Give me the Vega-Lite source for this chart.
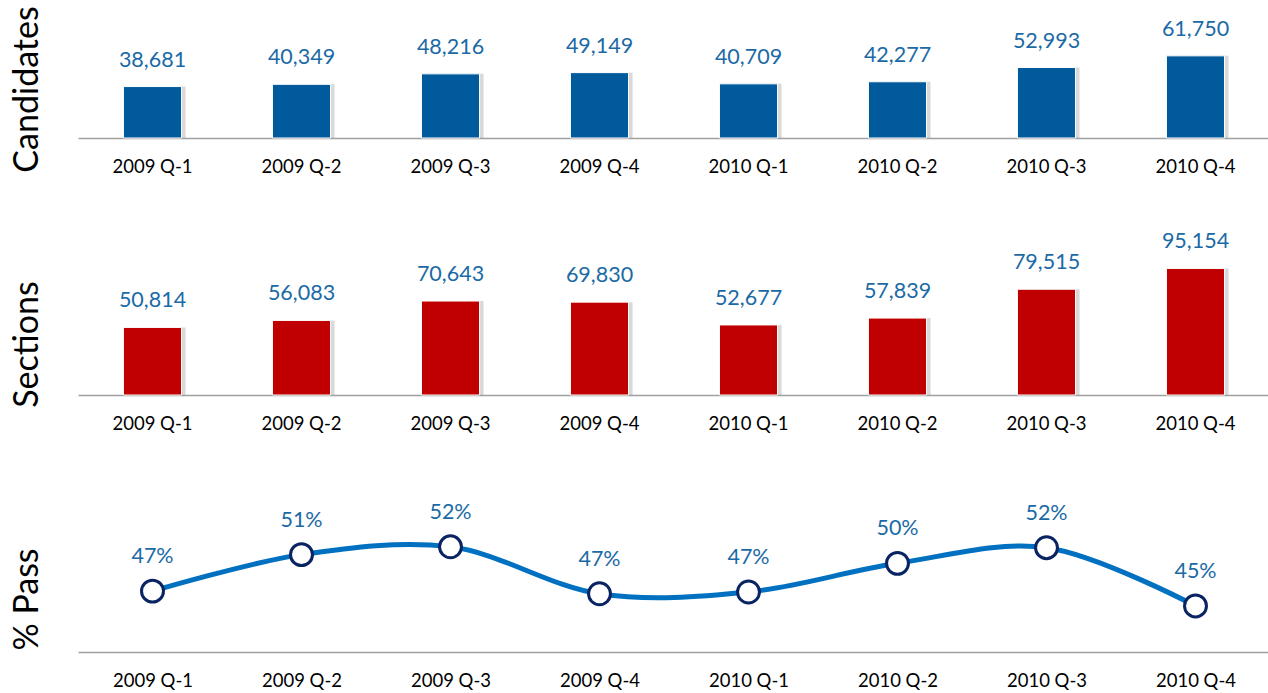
{
  "$schema": "https://vega.github.io/schema/vega-lite/v6.json",
  "padding": {"left": 10, "top": 5, "right": 0, "bottom": 0},
  "background": "white",
  "spacing": 124,
  "bounds": "flush",
  "config": {
    "view": {"stroke": null},
    "font": "Lato",
    "axis": {"grid": false}
  },
  "data": {
    "values": [
      {"quarter": "2009 Q-1", "candidates": 38681, "sections": 50814, "pass": 0.470},
      {"quarter": "2009 Q-2", "candidates": 40349, "sections": 56083, "pass": 0.512},
      {"quarter": "2009 Q-3", "candidates": 48216, "sections": 70643, "pass": 0.521},
      {"quarter": "2009 Q-4", "candidates": 49149, "sections": 69830, "pass": 0.467},
      {"quarter": "2010 Q-1", "candidates": 40709, "sections": 52677, "pass": 0.469},
      {"quarter": "2010 Q-2", "candidates": 42277, "sections": 57839, "pass": 0.502},
      {"quarter": "2010 Q-3", "candidates": 52993, "sections": 79515, "pass": 0.520},
      {"quarter": "2010 Q-4", "candidates": 61750, "sections": 95154, "pass": 0.453}
    ]
  },
  "vconcat": [
    {
      "width": 1192,
      "height": 133,
      "encoding": {
        "x": {"field": "quarter", "type": "nominal", "sort": null,
          "scale": {"paddingInner": 0.61, "paddingOuter": 0.305},
          "axis": {"title": null, "labelAngle": 0, "ticks": false, "labelPadding": 19, "labelFontSize": 18.5, "labelColor": "#000000", "domainColor": "#a0a0a0", "domainWidth": 1.5}},
        "y": {"field": "candidates", "type": "quantitative", "scale": {"domain": [0, 100000]},
          "axis": {"title": "Candidates", "labels": false, "ticks": false, "domain": false, "titleFontSize": 34, "titleFontWeight": "normal", "titleColor": "#000000", "titleX": -41, "titleY": 84, "titleAlign": "center", "titleBaseline": "alphabetic", "titleAngle": -90}}
      },
      "layer": [
        {"mark": {"type": "bar", "color": "#808080", "opacity": 0.3, "xOffset": 4}},
        {"mark": {"type": "bar", "color": "#005a9c", "stroke": "#ffffff", "strokeWidth": 1}},
        {"mark": {"type": "text", "dy": -20, "baseline": "alphabetic", "fontSize": 21.5, "color": "#1b6aa5"},
          "encoding": {"text": {"field": "candidates", "type": "quantitative", "format": ","}}}
      ]
    },
    {
      "width": 1192,
      "height": 133,
      "encoding": {
        "x": {"field": "quarter", "type": "nominal", "sort": null,
          "scale": {"paddingInner": 0.61, "paddingOuter": 0.305},
          "axis": {"title": null, "labelAngle": 0, "ticks": false, "labelPadding": 19, "labelFontSize": 18.5, "labelColor": "#000000", "domainColor": "#a0a0a0", "domainWidth": 1.5}},
        "y": {"field": "sections", "type": "quantitative", "scale": {"domain": [0, 100000]},
          "axis": {"title": "Sections", "labels": false, "ticks": false, "domain": false, "titleFontSize": 34, "titleFontWeight": "normal", "titleColor": "#000000", "titleX": -41, "titleY": 82, "titleAlign": "center", "titleBaseline": "alphabetic", "titleAngle": -90}}
      },
      "layer": [
        {"mark": {"type": "bar", "color": "#808080", "opacity": 0.3, "xOffset": 4}},
        {"mark": {"type": "bar", "color": "#c00000", "stroke": "#ffffff", "strokeWidth": 1}},
        {"mark": {"type": "text", "dy": -20, "baseline": "alphabetic", "fontSize": 21.5, "color": "#1b6aa5"},
          "encoding": {"text": {"field": "sections", "type": "quantitative", "format": ","}}}
      ]
    },
    {
      "width": 1192,
      "height": 133,
      "encoding": {
        "x": {"field": "quarter", "type": "nominal", "sort": null,
          "scale": {"type": "point", "padding": 0.5},
          "axis": {"title": null, "labelAngle": 0, "ticks": false, "labelPadding": 19, "labelFontSize": 18.5, "labelColor": "#000000", "domainColor": "#a0a0a0", "domainWidth": 1.5}},
        "y": {"field": "pass", "type": "quantitative", "scale": {"domain": [0.40, 0.553], "nice": false, "zero": false},
          "axis": {"title": "% Pass", "labels": false, "ticks": false, "domain": false, "titleFontSize": 34, "titleFontWeight": "normal", "titleColor": "#000000", "titleX": -41, "titleY": 80, "titleAlign": "center", "titleBaseline": "alphabetic", "titleAngle": -90}}
      },
      "layer": [
        {"mark": {"type": "line", "color": "#0070c0", "strokeWidth": 5, "interpolate": "catmull-rom"}},
        {"mark": {"type": "point", "filled": true, "fill": "#ffffff", "stroke": "#0a2463", "strokeWidth": 3, "size": 480, "opacity": 1}},
        {"mark": {"type": "text", "dy": -28, "baseline": "alphabetic", "fontSize": 21.5, "color": "#1b6aa5"},
          "encoding": {"text": {"field": "pass", "type": "quantitative", "format": ".0%"}}}
      ]
    }
  ]
}
